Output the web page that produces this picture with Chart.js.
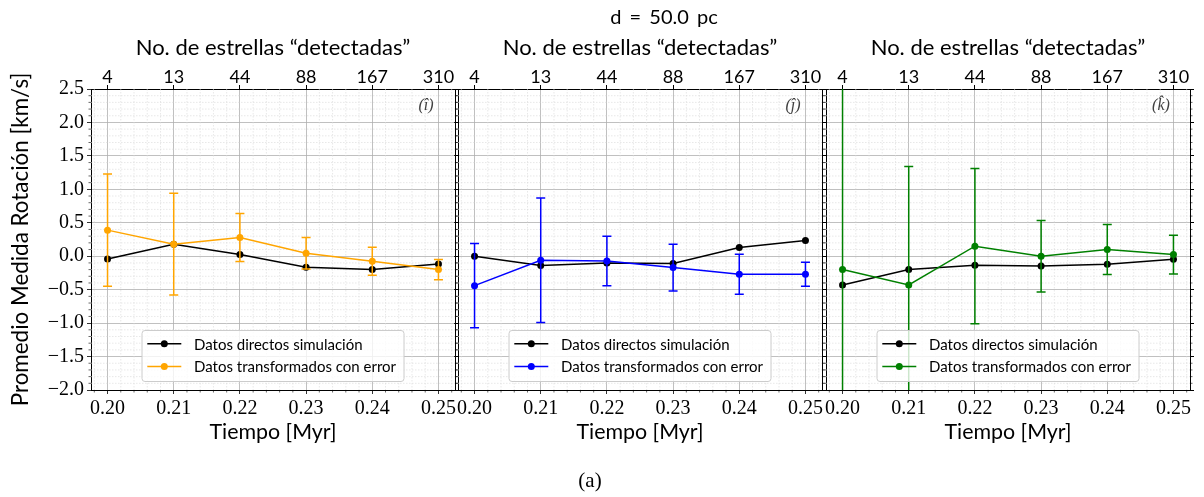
<!DOCTYPE html>
<html>
<head>
<meta charset="utf-8">
<script src="https://cdn.jsdelivr.net/npm/chart.js@4.4.0/dist/chart.umd.min.js"></script>
<style>
  body { margin: 0; background: #fff; }
  #wrap { position: relative; width: 1204px; height: 497px; overflow: hidden; }
  canvas { position: absolute; left: 0; top: 0; }
  .txt { position: absolute; white-space: nowrap; color: #000; text-align: center; }
  #titulo { left: 564px; top: 4px; width: 200px; height: 22px; line-height: 22px;
            font: 20px Lato, "DejaVu Sans", sans-serif; word-spacing: 3px; }
  #etiqueta { left: 540px; top: 468px; width: 100px; height: 24px; line-height: 24px;
              font: 21px "Liberation Serif", "DejaVu Serif", serif; }
</style>
</head>
<body>
<div id="wrap">
  <canvas id="panelI" width="1204" height="497"></canvas>
  <canvas id="panelJ" width="1204" height="497"></canvas>
  <canvas id="panelK" width="1204" height="497"></canvas>
  <div class="txt" id="titulo">d = 50.0 pc</div>
  <div class="txt" id="etiqueta">(a)</div>
</div>
<script>
var tiempo = [0.20, 0.21, 0.22, 0.23, 0.24, 0.25];
var estrellas = ['4', '13', '44', '88', '167', '310'];
var yTicks = [-2.0, -1.5, -1.0, -0.5, 0.0, 0.5, 1.0, 1.5, 2.0, 2.5];

var directosI = [-0.04, 0.18, 0.025, -0.165, -0.20, -0.115];
var transfI   = [0.39, 0.18, 0.28, 0.045, -0.075, -0.20];
var errorI    = [0.84, 0.76, 0.36, 0.235, 0.21, 0.15];

var directosJ = [0.0, -0.14, -0.10, -0.11, 0.13, 0.235];
var transfJ   = [-0.44, -0.06, -0.07, -0.17, -0.27, -0.27];
var errorJ    = [0.63, 0.93, 0.37, 0.35, 0.30, 0.18];

var directosK = [-0.43, -0.20, -0.135, -0.145, -0.12, -0.045];
var transfK   = [-0.20, -0.43, 0.15, 0.0, 0.10, 0.025];
var errorK    = [3.0, 1.77, 1.16, 0.535, 0.375, 0.29];

var sans = 'Lato, "DejaVu Sans", sans-serif';
var serif = '"Liberation Serif", "DejaVu Serif", serif';
Chart.defaults.color = '#000';

// tamaño de letra para que el texto ocupe el ancho medido en la figura
var medidor = document.createElement('canvas').getContext('2d');
function tamano(texto, ancho, familia) {
  medidor.font = '100px ' + familia;
  return Math.round(1000 * ancho / medidor.measureText(texto).width) / 10;
}
var tamY = tamano('Promedio Medida Rotación [km/s]', 334, sans);
var tamX = tamano('Tiempo [Myr]', 127, sans);
var tamTop = tamano('No. de estrellas “detectadas”', 275, sans);
var tamLeyenda = tamano('Datos transformados con error', 202, sans);

function puntos(vals) {
  return vals.map(function (v, i) { return { x: tiempo[i], y: v }; });
}

// rejilla menor y ticks menores
var rejillaMenor = {
  id: 'rejillaMenor',
  beforeDatasetsDraw: function (chart) {
    var ctx = chart.ctx, a = chart.chartArea, sx = chart.scales.x, sy = chart.scales.y;
    ctx.save();
    ctx.lineWidth = 0.6;
    for (var k = -1; k <= 26; k++) {
      if (k % 5 === 0) continue;
      var px = sx.getPixelForValue(0.20 + 0.002 * k);
      if (px <= a.left || px >= a.right) continue;
      ctx.strokeStyle = '#d8d8d8'; ctx.setLineDash([1.5, 1.5]);
      ctx.beginPath(); ctx.moveTo(px, a.top); ctx.lineTo(px, a.bottom); ctx.stroke();
      ctx.strokeStyle = '#000'; ctx.setLineDash([]);
      ctx.beginPath(); ctx.moveTo(px, a.bottom); ctx.lineTo(px, a.bottom + 2.5); ctx.stroke();
    }
    for (var j = -20; j <= 25; j++) {
      if (j % 5 === 0) continue;
      var py = sy.getPixelForValue(0.1 * j);
      ctx.strokeStyle = '#d8d8d8'; ctx.setLineDash([1.5, 1.5]);
      ctx.beginPath(); ctx.moveTo(a.left, py); ctx.lineTo(a.right, py); ctx.stroke();
      ctx.strokeStyle = '#000'; ctx.setLineDash([]);
      ctx.beginPath(); ctx.moveTo(a.left - 2.5, py); ctx.lineTo(a.left, py);
      ctx.moveTo(a.right, py); ctx.lineTo(a.right + 2.5, py); ctx.stroke();
    }
    ctx.restore();
  }
};

// barras de error
var barrasError = {
  id: 'barrasError',
  afterDatasetDraw: function (chart, args) {
    var ds = chart.data.datasets[args.index];
    if (!ds.errores) return;
    var ctx = chart.ctx, a = chart.chartArea, sx = chart.scales.x, sy = chart.scales.y;
    ctx.save();
    ctx.beginPath(); ctx.rect(a.left, a.top, a.right - a.left, a.bottom - a.top); ctx.clip();
    ctx.strokeStyle = ds.borderColor; ctx.lineWidth = 1.5;
    ds.data.forEach(function (p, i) {
      var px = sx.getPixelForValue(p.x);
      var y1 = sy.getPixelForValue(p.y + ds.errores[i]);
      var y2 = sy.getPixelForValue(p.y - ds.errores[i]);
      ctx.beginPath();
      ctx.moveTo(px, y1); ctx.lineTo(px, y2);
      ctx.moveTo(px - 4.5, y1); ctx.lineTo(px + 4.5, y1);
      ctx.moveTo(px - 4.5, y2); ctx.lineTo(px + 4.5, y2);
      ctx.stroke();
    });
    ctx.restore();
  }
};

// leyenda dentro del panel y etiqueta de panel
var leyenda = {
  id: 'leyenda',
  afterDraw: function (chart) {
    var ctx = chart.ctx, a = chart.chartArea;
    var w = 262, h = 51;
    var bx = (a.left + a.right) / 2 - w / 2, by = a.bottom - 8.5 - h;
    ctx.save();
    ctx.fillStyle = 'rgba(255,255,255,0.8)'; ctx.strokeStyle = '#cccccc'; ctx.lineWidth = 1;
    ctx.beginPath(); ctx.roundRect(bx, by, w, h, 3); ctx.fill(); ctx.stroke();
    chart.data.datasets.forEach(function (ds, i) {
      var ry = by + 13.3 + 22.7 * i;
      ctx.strokeStyle = ds.borderColor; ctx.lineWidth = 1.5;
      ctx.beginPath(); ctx.moveTo(bx + 5.3, ry); ctx.lineTo(bx + 39.3, ry); ctx.stroke();
      ctx.fillStyle = ds.borderColor;
      ctx.beginPath(); ctx.arc(bx + 22.3, ry, 3.5, 0, Math.PI * 2); ctx.fill();
      ctx.fillStyle = '#000'; ctx.font = tamLeyenda + 'px ' + sans; ctx.textBaseline = 'middle';
      ctx.fillText(ds.label, bx + 52, ry + 1);
    });
    ctx.fillStyle = '#404040'; ctx.font = 'italic 16px ' + serif; ctx.textAlign = 'center';
    ctx.textBaseline = 'middle';
    ctx.fillText(chart.options.plugins.leyenda.marca, a.right - 29, a.top + 17);
    ctx.restore();
  }
};

function panel(id, left, right, conEtiquetas, directos, transf, errores, color, marca) {
  var yW = conEtiquetas ? 87 : 5;
  var y2W = 5;
  var fijarX = function (s) { s.ticks = tiempo.map(function (v) { return { value: v }; }); };
  new Chart(document.getElementById(id), {
    type: 'line',
    data: {
      datasets: [
        { label: 'Datos directos simulación', data: puntos(directos), borderColor: '#000000',
          backgroundColor: '#000000', borderWidth: 1.5, pointRadius: 3.5, pointBorderWidth: 0, order: 1 },
        { label: 'Datos transformados con error', data: puntos(transf), errores: errores,
          borderColor: color, backgroundColor: color, borderWidth: 1.5, pointRadius: 3.5,
          pointBorderWidth: 0, order: 0 }
      ]
    },
    options: {
      responsive: false,
      animation: false,
      layout: { padding: { left: left - yW, right: 1204 - right - y2W, top: 31, bottom: 48 } },
      plugins: { legend: { display: false }, tooltip: { enabled: false }, leyenda: { marca: marca } },
      scales: {
        x: {
          type: 'linear', position: 'bottom', min: 0.1975, max: 0.2525,
          afterBuildTicks: fijarX,
          afterFit: function (s) { s.height = 59; },
          ticks: { callback: function (v) { return v.toFixed(2); }, font: { family: serif, size: 20 },
                   padding: 3, maxRotation: 0, autoSkip: false },
          grid: { color: '#b0b0b0', lineWidth: 0.8, tickColor: '#000', tickLength: 4 },
          border: { color: '#000', width: 1 },
          title: { display: true, text: 'Tiempo [Myr]', font: { family: sans, size: tamX }, padding: { top: 0, bottom: 4 } }
        },
        x2: {
          type: 'linear', position: 'top', min: 0.1975, max: 0.2525,
          afterBuildTicks: fijarX,
          afterFit: function (s) { s.height = 58; },
          ticks: { callback: function (v, i) { return estrellas[i]; }, font: { family: sans, size: 18, lineHeight: 1 },
                   padding: -1, maxRotation: 0, autoSkip: false },
          grid: { drawOnChartArea: false, tickColor: '#000', tickLength: 4 },
          border: { color: '#000', width: 1 },
          title: { display: true, text: 'No. de estrellas “detectadas”', font: { family: sans, size: tamTop }, padding: { top: 4, bottom: 0 } }
        },
        y: {
          min: -2.0, max: 2.5,
          afterBuildTicks: function (s) { s.ticks = yTicks.map(function (v) { return { value: v }; }); },
          afterFit: function (s) { s.width = yW; },
          ticks: { display: conEtiquetas, font: { family: serif, size: 20 }, padding: 3,
                   callback: function (v) { return (v < 0 ? '−' : '') + Math.abs(v).toFixed(1); } },
          grid: { color: '#b0b0b0', lineWidth: 0.8, tickColor: '#000', tickLength: 4 },
          border: { color: '#000', width: 1 },
          title: { display: conEtiquetas, text: 'Promedio Medida Rotación [km/s]', font: { family: sans, size: tamY }, padding: { top: 3, bottom: 0 } }
        },
        y2: {
          position: 'right', min: -2.0, max: 2.5,
          afterBuildTicks: function (s) { s.ticks = yTicks.map(function (v) { return { value: v }; }); },
          afterFit: function (s) { s.width = y2W; },
          ticks: { display: false },
          grid: { drawOnChartArea: false, tickColor: '#000', tickLength: 4 },
          border: { color: '#000', width: 1 }
        }
      }
    },
    plugins: [rejillaMenor, barrasError, leyenda]
  });
}

panel('panelI', 91, 455, true, directosI, transfI, errorI, '#FFA500', '(î)');
panel('panelJ', 458, 822, false, directosJ, transfJ, errorJ, '#0000FF', '(ĵ)');
panel('panelK', 826, 1190, false, directosK, transfK, errorK, '#008000', '(k̂)');
</script>
</body>
</html>
